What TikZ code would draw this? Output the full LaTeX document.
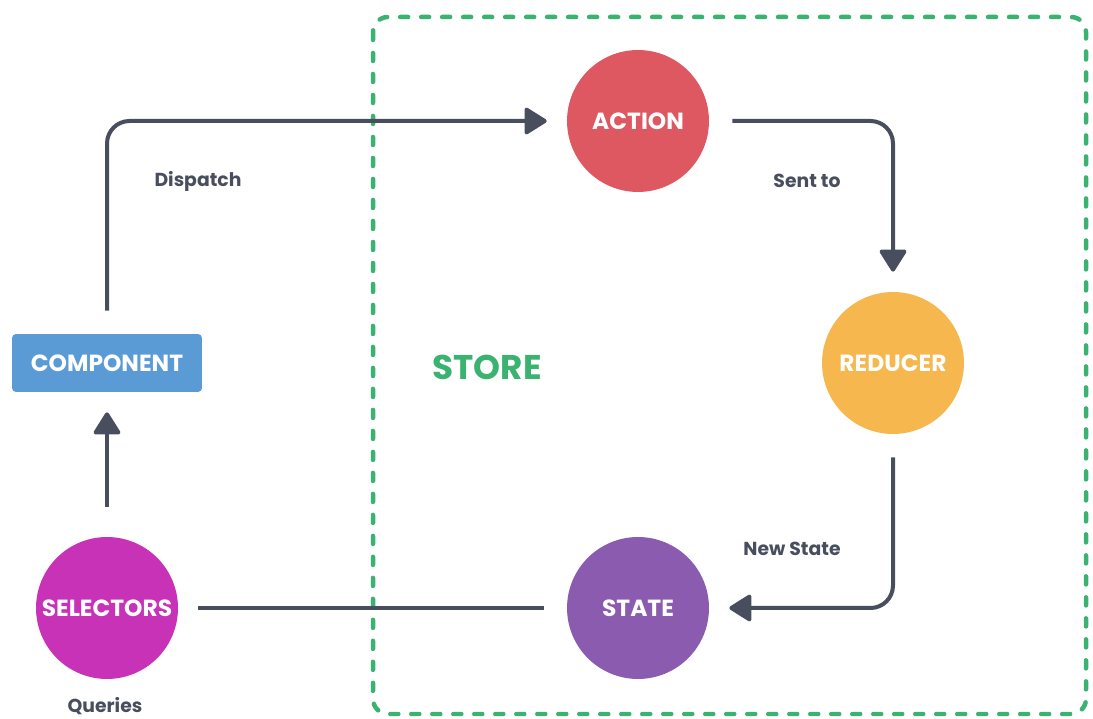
\documentclass[tikz,border=0pt]{standalone}
\usepackage{fontspec}
\setmainfont{Poppins}
\usetikzlibrary{arrows.meta}
\usetikzlibrary{positioning}
\definecolor{mgreen}{RGB}{58,178,112}
\definecolor{mred}{RGB}{222,88,98}
\definecolor{morange}{RGB}{245,183,78}
\definecolor{mpurple}{RGB}{139,91,176}
\definecolor{mmagenta}{RGB}{200,50,183}
\definecolor{mblue}{RGB}{91,155,213}
\definecolor{mdark}{RGB}{72,78,94}
\tikzset{
  stage/.style={circle, minimum size=2.84cm, inner sep=0pt, text=white,
    font=\fontsize{13.3}{15}\selectfont\bfseries},
  flow/.style={line width=0.08cm, mdark, rounded corners=0.45cm,
    shorten <=0.46cm, shorten >=0.4cm},
  tip/.style={-{Triangle[length=0.48cm, width=0.58cm, round]}},
  tag/.style={text=mdark, font=\fontsize{10.7}{12}\selectfont\bfseries},
}
\begin{document}
\begin{tikzpicture}[x=0.02cm, y=-0.02cm]
  \useasboundingbox (0,0) rectangle (1093,719);
  % the store
  \draw [mgreen, line width=0.09cm, line cap=round, dash pattern=on 0.16cm off 0.26cm,
    rounded corners=0.3cm] (373,17) rectangle (1086,714);
  \node [text=mgreen, font=\fontsize{19.5}{22}\selectfont\bfseries] (store) at (487,367) {STORE};
  \node [stage, fill=mred] (action) at (638,121) {ACTION};
  \node [stage, fill=morange] (reducer) at (893,363) {REDUCER};
  \node [stage, fill=mpurple] (state) at (638,608) {STATE};
  \node [stage, fill=mmagenta] (selectors) at (107,608) {SELECTORS};
  \node [fill=mblue, rounded corners=0.08cm, minimum width=3.8cm, minimum height=1.16cm,
    text=white, font=\fontsize{13.3}{15}\selectfont\bfseries] (component) at (107,363) {COMPONENT};
  % flow
  \draw [flow, tip] (component.north) |- (action.west);
  \draw [flow, tip] (action.east) -| (reducer.north);
  \draw [flow, tip] (reducer.south) |- (state.east);
  \draw [flow] (state.west) -- (selectors.east);
  \draw [flow, tip, shorten <=0.6cm] (selectors.north) -- (component.south);
  \node [tag] (dispatch) at (198,181) {Dispatch};
  \node [tag] (sentto) at (807,181) {Sent to};
  \node [tag] (newstate) at (792,549) {New State};
  \node [tag] (queries) at (105,706) {Queries};
\end{tikzpicture}
\end{document}
